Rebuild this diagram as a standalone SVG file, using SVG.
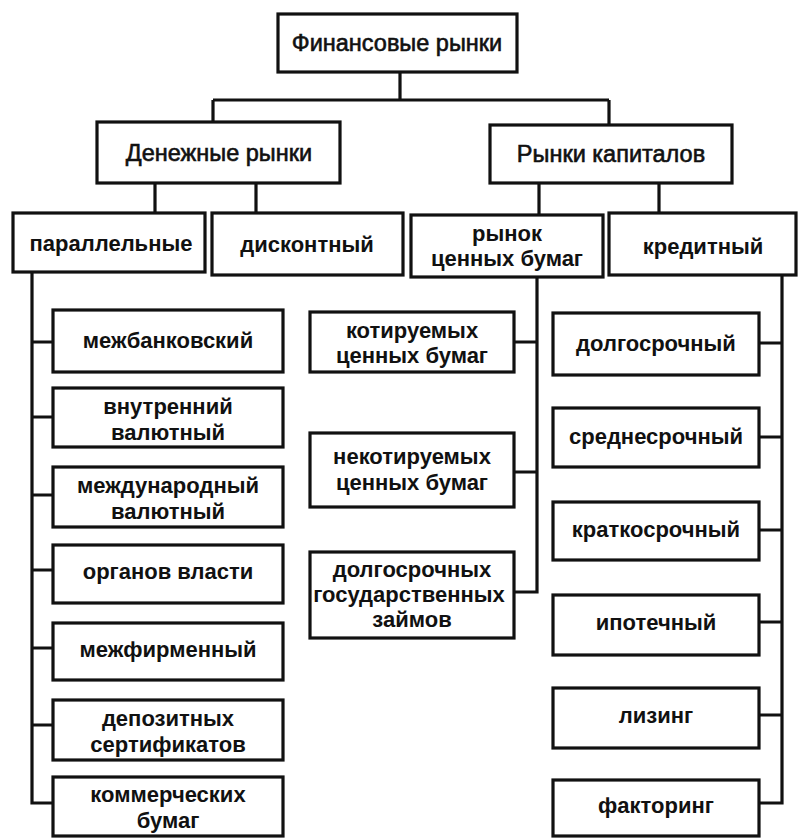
<svg xmlns="http://www.w3.org/2000/svg" width="799" height="838" viewBox="0 0 799 838">
  <style>
    .box { fill: #fff; stroke: #111; stroke-width: 3.2; }
    .wire { fill: none; stroke: #111; stroke-width: 3.2; stroke-linejoin: miter; }
    text { font-family: "Liberation Sans", Arial, sans-serif; font-weight: bold; font-size: 22px; fill: #111; text-anchor: middle; }
    .big { font-size: 23.5px; font-weight: normal; stroke: #111; stroke-width: 0.6; }
  </style>
  <rect width="799" height="838" fill="#fff"/>

  <!-- connectors -->
  <g id="connectors" class="wire">
    <!-- root to level 2 -->
    <path d="M400 72 V100 M213 100 H609 M213 100 V122 M609 100 V125"/>
    <!-- money markets to children -->
    <path d="M155 183 V213 M256 183 V213"/>
    <!-- capital markets to children -->
    <path d="M539 183 V215 M659 183 V213"/>
    <!-- parallel markets trunk -->
    <path d="M32 272 V803 H53 M32 342 H53 M32 417 H53 M32 495 H53 M32 570 H53 M32 648 H53 M32 725 H53"/>
    <!-- securities trunk -->
    <path d="M537 277 V592 H514 M537 342 H514 M537 472 H514"/>
    <!-- credit trunk -->
    <path d="M782 275 V803 H759 M782 343 H759 M782 437 H759 M782 530 H759 M782 622 H759 M782 715 H759"/>
  </g>

  <g id="root">
    <rect class="box" x="278" y="14" width="239" height="58"/>
    <text class="big" x="397" y="51">Финансовые рынки</text>
  </g>

  <g id="money">
    <rect class="box" x="97" y="122" width="243" height="61"/>
    <text class="big" x="219" y="161">Денежные рынки</text>
  </g>
  <g id="capital">
    <rect class="box" x="490" y="125" width="242" height="58"/>
    <text class="big" x="611" y="162">Рынки капиталов</text>
  </g>

  <g id="parallel">
    <rect class="box" x="13" y="213" width="192" height="59"/>
    <text x="111" y="251">параллельные</text>
  </g>
  <g id="discount">
    <rect class="box" x="212" y="213" width="191" height="62"/>
    <text x="307" y="252">дисконтный</text>
  </g>
  <g id="securities">
    <rect class="box" x="411" y="215" width="192" height="62"/>
    <text x="507" y="241">рынок</text>
    <text x="507" y="266">ценных бумаг</text>
  </g>
  <g id="credit">
    <rect class="box" x="609" y="213" width="187" height="62"/>
    <text x="703" y="254">кредитный</text>
  </g>

  <!-- money market segments -->
  <g id="interbank">
    <rect class="box" x="53" y="310" width="230" height="62"/>
    <text x="168" y="348">межбанковский</text>
  </g>
  <g id="domestic-fx">
    <rect class="box" x="53" y="388" width="230" height="59"/>
    <text x="168" y="414">внутренний</text>
    <text x="168" y="440">валютный</text>
  </g>
  <g id="intl-fx">
    <rect class="box" x="53" y="467" width="230" height="60"/>
    <text x="168" y="493">международный</text>
    <text x="168" y="519">валютный</text>
  </g>
  <g id="authorities">
    <rect class="box" x="53" y="545" width="230" height="58"/>
    <text x="168" y="579">органов власти</text>
  </g>
  <g id="interfirm">
    <rect class="box" x="53" y="623" width="230" height="57"/>
    <text x="168" y="657">межфирменный</text>
  </g>
  <g id="deposit-cert">
    <rect class="box" x="53" y="700" width="230" height="60"/>
    <text x="168" y="726">депозитных</text>
    <text x="168" y="752">сертификатов</text>
  </g>
  <g id="commercial-paper">
    <rect class="box" x="53" y="777" width="230" height="59"/>
    <text x="168" y="802">коммерческих</text>
    <text x="168" y="828">бумаг</text>
  </g>

  <!-- securities segments -->
  <g id="listed">
    <rect class="box" x="310" y="312" width="204" height="60"/>
    <text x="412" y="338">котируемых</text>
    <text x="412" y="363">ценных бумаг</text>
  </g>
  <g id="unlisted">
    <rect class="box" x="310" y="433" width="204" height="74"/>
    <text x="412" y="464">некотируемых</text>
    <text x="412" y="490">ценных бумаг</text>
  </g>
  <g id="gov-loans">
    <rect class="box" x="310" y="552" width="204" height="86"/>
    <text x="412" y="577">долгосрочных</text>
    <text x="409" y="602">государственных</text>
    <text x="412" y="627">займов</text>
  </g>

  <!-- credit segments -->
  <g id="long-term">
    <rect class="box" x="553" y="313" width="206" height="62"/>
    <text x="656" y="351">долгосрочный</text>
  </g>
  <g id="mid-term">
    <rect class="box" x="553" y="408" width="206" height="59"/>
    <text x="656" y="444">среднесрочный</text>
  </g>
  <g id="short-term">
    <rect class="box" x="553" y="502" width="206" height="58"/>
    <text x="656" y="537">краткосрочный</text>
  </g>
  <g id="mortgage">
    <rect class="box" x="553" y="595" width="206" height="60"/>
    <text x="656" y="630">ипотечный</text>
  </g>
  <g id="leasing">
    <rect class="box" x="553" y="688" width="206" height="60"/>
    <text x="656" y="723">лизинг</text>
  </g>
  <g id="factoring">
    <rect class="box" x="553" y="780" width="206" height="56"/>
    <text x="656" y="813">факторинг</text>
  </g>
</svg>
